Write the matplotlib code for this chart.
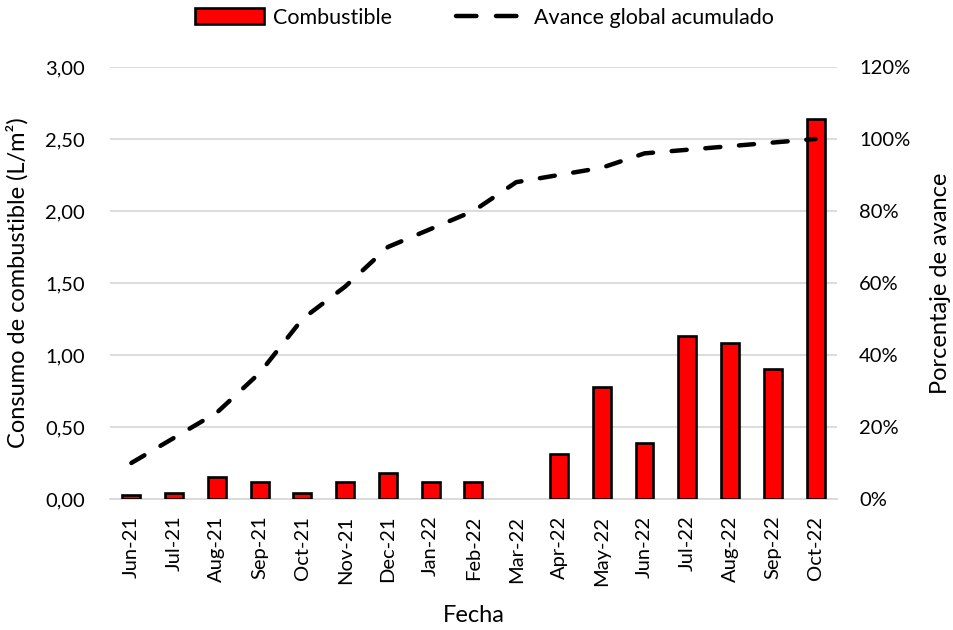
import matplotlib
matplotlib.use("Agg")
import matplotlib.pyplot as plt
from matplotlib.ticker import FuncFormatter, MultipleLocator
from matplotlib.lines import Line2D
from matplotlib.patches import Patch

plt.rcParams['font.family'] = ['Lato', 'DejaVu Sans']

months = ["Jun-21", "Jul-21", "Aug-21", "Sep-21", "Oct-21", "Nov-21", "Dec-21",
          "Jan-22", "Feb-22", "Mar-22", "Apr-22", "May-22", "Jun-22", "Jul-22",
          "Aug-22", "Sep-22", "Oct-22"]
fuel = [0.03, 0.04, 0.15, 0.12, 0.04, 0.12, 0.18, 0.12, 0.12, 0.00,
        0.31, 0.78, 0.39, 1.13, 1.08, 0.90, 2.64]
progress = [10, 17, 24, 35, 50, 59, 70, 75, 80, 88, 90, 92, 96, 97, 98, 99, 100]

fig = plt.figure(figsize=(9.54, 6.30), dpi=100)
ax = fig.add_axes([0.1153, 0.208, 0.762, 0.6857])
x = list(range(len(months)))

# empty months get no outline
edges = ["black" if v > 0 else "none" for v in fuel]
ax.bar(x, fuel, width=0.42, color="#ff0000", edgecolor=edges, linewidth=1.9,
       zorder=3)
ax.set_ylim(0, 3.0)
ax.set_xlim(-0.5, len(months) - 0.5)
ax.yaxis.set_major_locator(MultipleLocator(0.5))
ax.yaxis.set_major_formatter(FuncFormatter(lambda v, p: f"{v:.2f}".replace(".", ",")))
ax.grid(axis="y", color="#d9d9d9", linewidth=1.3, zorder=0)
ax.set_axisbelow(True)
for s in ["top", "right", "left"]:
    ax.spines[s].set_visible(False)
ax.spines["bottom"].set_color("#d9d9d9")
ax.spines["bottom"].set_linewidth(1.3)
ax.set_xticks(x)
ax.set_xticklabels(months, rotation=90, fontsize=14.5)
ax.tick_params(axis="y", length=0, labelsize=14.5, pad=18)
ax.tick_params(axis="x", length=0, labelsize=14.5, pad=12)
ax.set_xlabel("Fecha", fontsize=17, labelpad=14)
ax.set_ylabel("Consumo de combustible (L/m²)", fontsize=17, labelpad=12)

ax2 = ax.twinx()
ax2.plot(x, progress, color="black", linewidth=3.2, linestyle=(0, (3.4, 4.2)),
         dash_capstyle="round", zorder=4)
ax2.set_ylim(0, 120)
ax2.yaxis.set_major_locator(MultipleLocator(20))
ax2.yaxis.set_major_formatter(FuncFormatter(lambda v, p: f"{v:.0f}%"))
ax2.tick_params(axis="y", length=0, labelsize=14.5, pad=16)
for s in ["top", "right", "left", "bottom"]:
    ax2.spines[s].set_visible(False)
ax2.set_ylabel("Porcentaje de avance", fontsize=17, labelpad=14)

handles = [Patch(facecolor="#ff0000", edgecolor="black", linewidth=1.9),
           Line2D([0], [0], color="black", linewidth=3.2,
                  linestyle=(0, (4.6, 4.4)), dash_capstyle="round")]
fig.legend(handles, ["Combustible", "Avance global acumulado"],
           loc="center", bbox_to_anchor=(0.508, 0.972), ncol=2, frameon=False,
           fontsize=15.5, handlelength=3.2, handleheight=0.8, columnspacing=3.0,
           handletextpad=0.4)

fig.savefig("out.png", dpi=100)
